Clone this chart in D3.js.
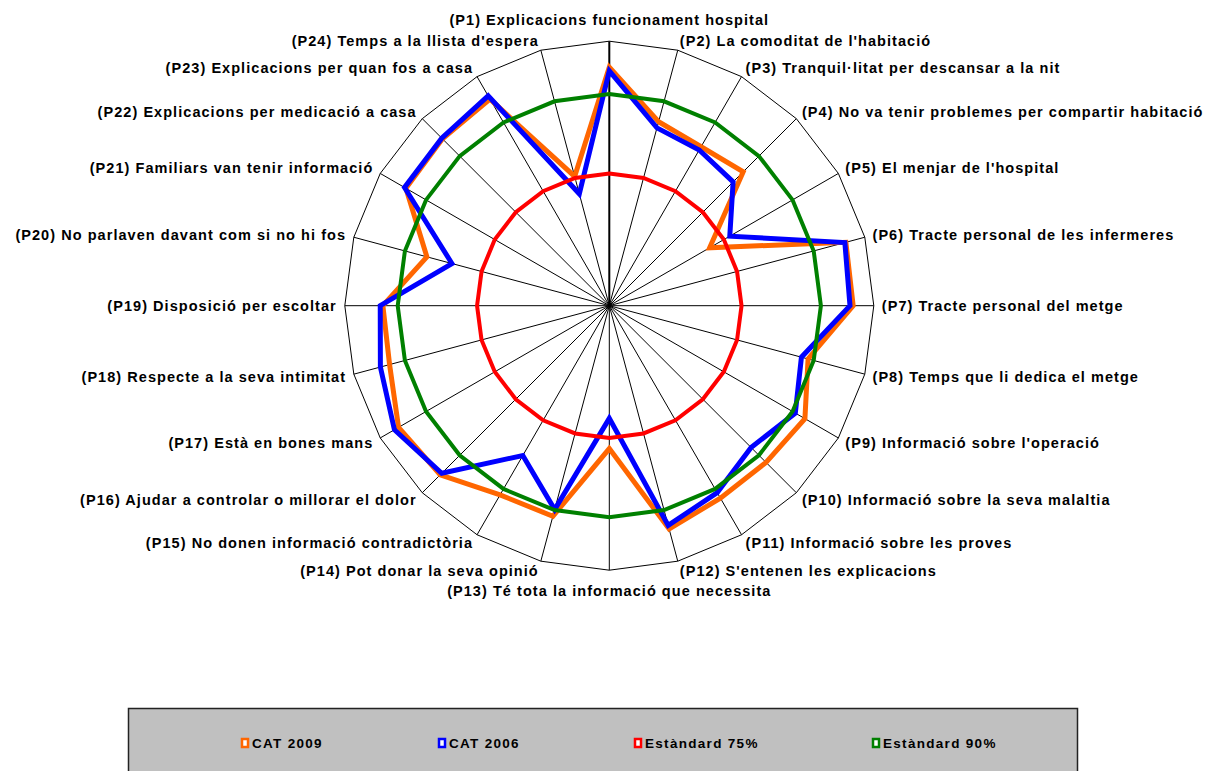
<!DOCTYPE html>
<html>
<head>
<meta charset="utf-8">
<script src="https://cdn.jsdelivr.net/npm/d3@7"></script>
<style>
    body { margin: 0; background: #fff; }
    svg text { font-family: "Liberation Sans", Arial, sans-serif; font-weight: bold; fill: #000; }
</style>
</head>
<body>
<svg id="chart" width="1208" height="771"></svg>
<script>
var labels = [
    "(P1) Explicacions funcionament hospital",
    "(P2) La comoditat de l'habitació",
    "(P3) Tranquil·litat per descansar a la nit",
    "(P4) No va tenir problemes per compartir habitació",
    "(P5) El menjar de l'hospital",
    "(P6) Tracte personal de les infermeres",
    "(P7) Tracte personal del metge",
    "(P8) Temps que li dedica el metge",
    "(P9) Informació sobre l'operació",
    "(P10) Informació sobre la seva malaltia",
    "(P11) Informació sobre les proves",
    "(P12) S'entenen les explicacions",
    "(P13) Té tota la informació que necessita",
    "(P14) Pot donar la seva opinió",
    "(P15) No donen informació contradictòria",
    "(P16) Ajudar a controlar o millorar el dolor",
    "(P17) Està en bones mans",
    "(P18) Respecte a la seva intimitat",
    "(P19) Disposició per escoltar",
    "(P20) No parlaven davant com si no hi fos",
    "(P21) Familiars van tenir informació",
    "(P22) Explicacions per medicació a casa",
    "(P23) Explicacions per quan fos a casa",
    "(P24) Temps a la llista d'espera"
];
var cat2009 = [95.1, 86.0, 84.7, 85.8, 71.9, 96.3, 96.1, 88.9, 92.7, 91.9, 92.0, 93.7,
               77.0, 91.2, 91.3, 95.2, 96.0, 93.0, 92.8, 85.7, 94.4, 94.6, 95.1, 75.3];
var cat2006 = [94.4, 84.8, 84.0, 83.1, 76.3, 96.1, 95.5, 87.6, 90.6, 87.9, 90.8, 93.0,
               71.3, 89.9, 82.7, 94.8, 96.9, 94.8, 93.3, 80.8, 94.7, 94.8, 95.8, 71.9];
var std75 = labels.map(function() { return 75; });
var std90 = labels.map(function() { return 90; });
var seriesNames = ["CAT 2009", "CAT 2006", "Estàndard 75%", "Estàndard 90%"];
var seriesColors = ["#ff6600", "#0000ff", "#ff0000", "#008000"];
var valueDomain = [50, 100];

var svg = d3.select("#chart");
var cx = 609.3, cy = 305.7, radius = 264.5;

var r = d3.scaleLinear().domain(valueDomain).range([0, radius]);
var angle = d3.scaleLinear().domain([0, labels.length]).range([0, 2 * Math.PI]);

var pt = function(i, rad) {
    var a = angle(i);
    return [cx + rad * Math.sin(a), cy - rad * Math.cos(a)];
};

var g = svg.append("g");

// spokes
g.selectAll("line.spoke")
    .data(labels).enter()
    .append("line")
    .attr("class", "spoke")
    .attr("x1", cx).attr("y1", cy)
    .attr("x2", function(d, i) { return pt(i, radius)[0]; })
    .attr("y2", function(d, i) { return pt(i, radius)[1]; })
    .attr("stroke", "#000")
    .attr("stroke-width", function(d, i) { return i == 0 ? 2 : 1; });

// outer ring
var ring = d3.line();
g.append("path")
    .attr("d", ring(labels.map(function(d, i) { return pt(i, r(valueDomain[1])); })) + "Z")
    .attr("fill", "none")
    .attr("stroke", "#000")
    .attr("stroke-width", 1);

// series
var allSeries = [cat2009, cat2006, std75, std90];
var seriesWidth = [5, 5, 4, 4];
allSeries.forEach(function(s, k) {
    g.append("path")
        .attr("d", ring(s.map(function(v, i) { return pt(i, r(v)); })) + "Z")
        .attr("fill", "none")
        .attr("stroke", seriesColors[k])
        .attr("stroke-width", seriesWidth[k])
        .attr("stroke-linejoin", "miter");
});

// category labels
g.selectAll("text.cat")
    .data(labels).enter()
    .append("text")
    .attr("class", "cat")
    .attr("font-size", "14.5px")
    .attr("letter-spacing", "1.05px")
    .attr("dominant-baseline", "central")
    .attr("text-anchor", function(d, i) {
        var s = Math.sin(angle(i));
        if (s > 0.01) return "start";
        if (s < -0.01) return "end";
        return "middle";
    })
    .attr("x", function(d, i) { return pt(i, radius + 8)[0]; })
    .attr("y", function(d, i) {
        var p = pt(i, radius + 8);
        var c = Math.cos(angle(i));
        if (Math.abs(Math.sin(angle(i))) < 0.01) return p[1] - c * 13;
        return p[1] - c * 2;
    })
    .text(function(d) { return d; });

// legend
var legend = svg.append("g");
legend.append("rect")
    .attr("x", 128.5).attr("y", 708.5)
    .attr("width", 949).attr("height", 70)
    .attr("fill", "#c0c0c0")
    .attr("stroke", "#222")
    .attr("stroke-width", 1.5);
var legendX = [241, 438, 634, 872];
seriesNames.forEach(function(name, k) {
    legend.append("rect")
        .attr("x", legendX[k] + 1).attr("y", 739)
        .attr("width", 6).attr("height", 8)
        .attr("fill", "#fff")
        .attr("stroke", seriesColors[k])
        .attr("stroke-width", 2.5);
    legend.append("text")
        .attr("x", legendX[k] + 11).attr("y", 743)
        .attr("font-size", "13.5px")
        .attr("letter-spacing", "1.3px")
        .attr("dominant-baseline", "central")
        .text(name);
});
</script>
</body>
</html>
